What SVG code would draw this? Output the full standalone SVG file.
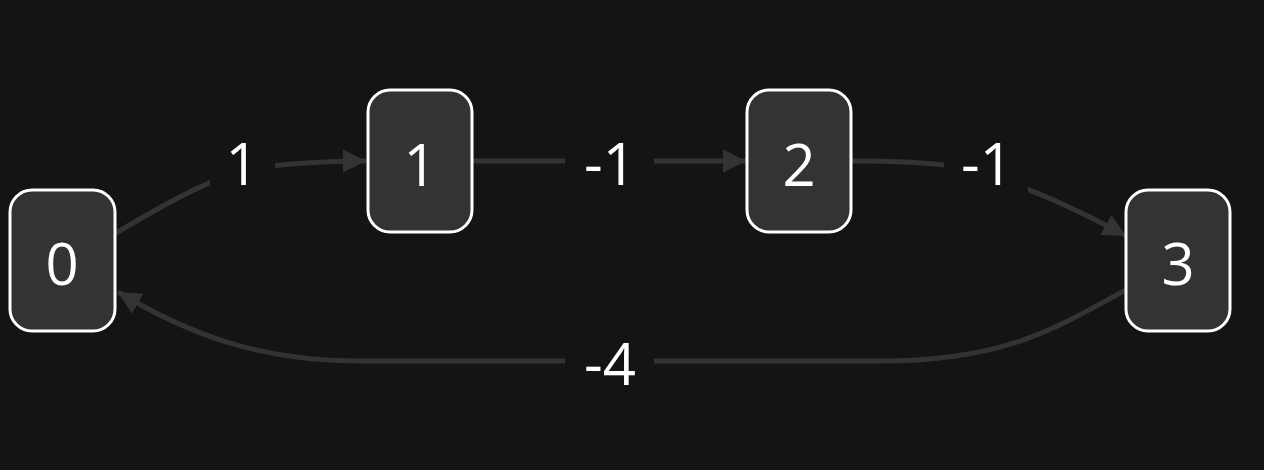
<svg xmlns="http://www.w3.org/2000/svg" width="1264" height="470" viewBox="0 0 1264 470">
<defs>
<style>
.node rect{fill:#333333;stroke:#ffffff;stroke-width:3}
.node text,.lbl text{fill:#ffffff;font-family:"Open Sans","Noto Sans","DejaVu Sans",sans-serif;font-size:58px;text-anchor:middle}
.edge{fill:none;stroke:#333333;stroke-width:5}
.lbl rect{fill:#141414}
</style>
<marker id="arr" viewBox="0 0 10 10" refX="10" refY="5" markerWidth="23" markerHeight="23" markerUnits="userSpaceOnUse" orient="auto">
<path d="M0,0 L10,5 L0,10 z" fill="#333333"/>
</marker>
</defs>
<rect width="1264" height="470" fill="#141414"/>
<g id="connectors">
<path class="edge" d="M116,233 C175,198 225,170 270,166 C310,162 340,161 366,161" marker-end="url(#arr)"/>
<path class="edge" d="M473,161 L746,161" marker-end="url(#arr)"/>
<path class="edge" d="M852,161 C900,161 925,162 950,166 C1010,178 1075,208 1126,236" marker-end="url(#arr)"/>
<path class="edge" d="M1126,290 C1060,325 1010,361 880,361 L360,361 C260,361 190,335 118,292" marker-end="url(#arr)"/>
</g>
<g id="labels">
<g class="lbl" id="label-0-1"><rect x="210" y="135" width="65" height="60"/><text x="242" y="185">1</text></g>
<g class="lbl" id="label-1-2"><rect x="565" y="135" width="89" height="60"/><text x="610" y="185">-1</text></g>
<g class="lbl" id="label-2-3"><rect x="944" y="135" width="84" height="60"/><text x="987" y="185">-1</text></g>
<g class="lbl" id="label-3-0"><rect x="565" y="335" width="89" height="60"/><text x="610" y="385">-4</text></g>
</g>
<g class="node" id="node-0"><rect x="10" y="190" width="105" height="141" rx="22"/><text x="62" y="285">0</text></g>
<g class="node" id="node-1"><rect x="368" y="90" width="104" height="142" rx="22"/><text x="420" y="186">1</text></g>
<g class="node" id="node-2"><rect x="747" y="90" width="104" height="142" rx="22"/><text x="799" y="186">2</text></g>
<g class="node" id="node-3"><rect x="1126" y="190" width="104" height="141" rx="22"/><text x="1178" y="285">3</text></g>
</svg>
